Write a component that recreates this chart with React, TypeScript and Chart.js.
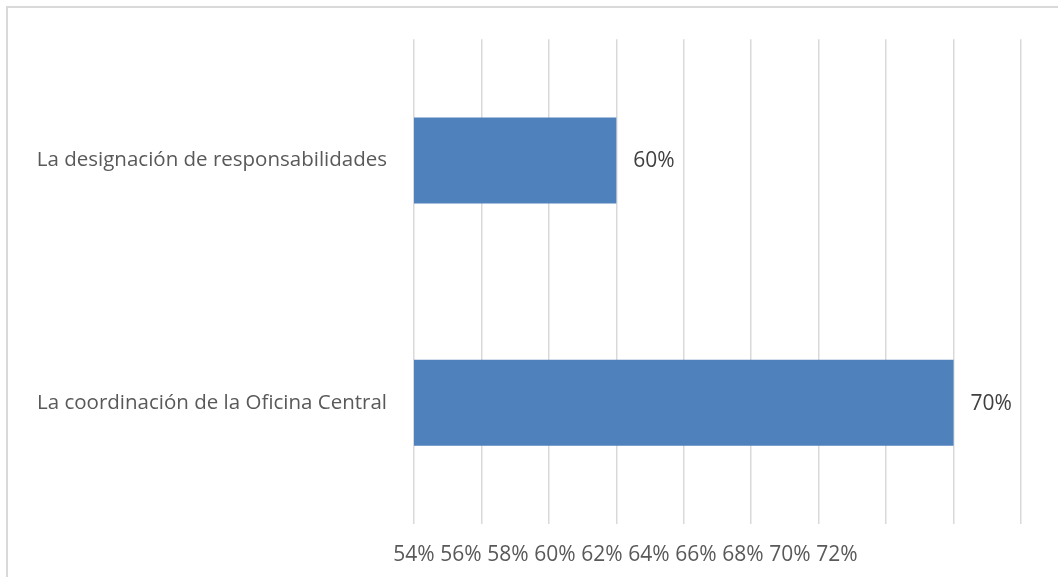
import React, { useEffect, useRef } from "react";
import { Chart, registerables } from "chart.js";

Chart.register(...registerables);

const categories = [
  "La designación de responsabilidades",
  "La coordinación de la Oficina Central",
];
const values = [60, 70];
const axisMin = 54;
const axisMax = 72;
const axisStep = 2;
// the printed tick labels are packed tighter than the gridlines in the original
const labelAxisMax = 79.83;

const TEXT = "#595959";
const FONT = "'Open Sans', 'DejaVu Sans', sans-serif";

const valueLabels = {
  id: "valueLabels",
  afterDatasetsDraw(chart: any) {
    const ctx = chart.ctx;
    const meta = chart.getDatasetMeta(0);
    ctx.save();
    ctx.fillStyle = "#404040";
    ctx.font = `21px ${FONT}`;
    ctx.textAlign = "left";
    ctx.textBaseline = "middle";
    meta.data.forEach((bar: any, i: number) => {
      ctx.fillText(values[i] + "%", bar.x + 17, bar.y + 1);
    });
    ctx.restore();
  },
};

export default function App() {
  const ref = useRef<HTMLCanvasElement>(null);

  useEffect(() => {
    document.body.style.margin = "0";
    const chart = new Chart(ref.current!, {
      type: "bar",
      data: {
        labels: categories,
        datasets: [
          {
            data: values,
            backgroundColor: "#4F81BD",
            borderWidth: 0,
            barPercentage: 0.355,
            categoryPercentage: 1,
          },
        ],
      },
      options: {
        animation: false,
        responsive: false,
        indexAxis: "y",
        layout: { padding: { top: 39, right: 37, left: 0, bottom: 0 } },
        plugins: { legend: { display: false }, tooltip: { enabled: false } },
        scales: {
          y: {
            grid: { display: false, drawTicks: false },
            border: { display: false },
            ticks: {
              color: TEXT,
              font: { family: FONT, size: 20.5 },
              padding: 27,
            },
            afterFit: (s: any) => {
              s.width = 414;
            },
          },
          x: {
            type: "linear",
            position: "bottom",
            min: axisMin,
            max: axisMax,
            grid: { color: "#d9d9d9", lineWidth: 1.5, drawTicks: false },
            border: { display: false },
            ticks: { display: false, stepSize: axisStep },
            afterFit: (s: any) => {
              s.height = 0;
            },
          },
          x2: {
            type: "linear",
            position: "bottom",
            min: axisMin,
            max: labelAxisMax,
            grid: { display: false, drawTicks: false },
            border: { display: false },
            ticks: {
              stepSize: axisStep,
              autoSkip: false,
              maxRotation: 0,
              color: TEXT,
              font: { family: FONT, size: 21 },
              padding: 18,
              callback: (v: any) => v + "%",
            },
            afterBuildTicks: (s: any) => {
              s.ticks = s.ticks.filter((t: any) => t.value <= axisMax);
            },
            afterFit: (s: any) => {
              s.height = 53;
            },
          },
        },
      },
      plugins: [valueLabels],
    });
    return () => chart.destroy();
  }, []);

  return (
    <div
      style={{
        position: "fixed",
        left: 0,
        top: 0,
        width: 1058,
        height: 577,
        overflow: "hidden",
        background: "#fff",
      }}
    >
      <div
        style={{
          position: "absolute",
          left: 6,
          top: 6,
          width: 1100,
          height: 620,
          border: "2px solid #d9d9d9",
          boxSizing: "border-box",
        }}
      />
      <canvas
        ref={ref}
        width={1058}
        height={577}
        style={{ position: "absolute", left: 0, top: 0, width: 1058, height: 577 }}
      />
    </div>
  );
}
